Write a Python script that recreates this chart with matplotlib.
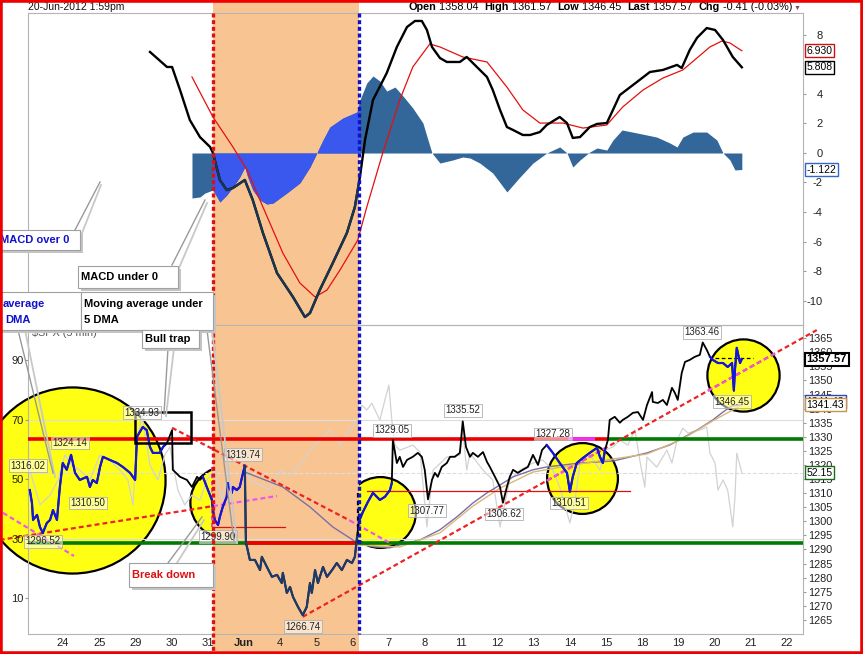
import matplotlib
matplotlib.use("Agg")
import matplotlib.pyplot as plt
import matplotlib.transforms as mtransforms
from matplotlib.patches import Rectangle
from matplotlib.lines import Line2D
import numpy as np

plt.rcParams['font.family'] = ['Liberation Sans', 'DejaVu Sans']

# x = trading day index, 0 = 23 May 2012 ... 21 = 22 Jun 2012
day_labels = ['24', '25', '29', '30', '31', 'Jun', '4', '5', '6', '7', '8',
              '11', '12', '13', '14', '15', '18', '19', '20', '21', '22']

# MACD panel
macd = [(3.40, 6.85), (3.87, 5.83), (4.01, 5.83), (4.23, 4.27), (4.50, 2.24), (4.78, 1.08),
        (5.06, 0.41), (5.14, 0.0), (5.33, -1.83), (5.52, -2.51), (5.69, -2.37), (6.02, -1.83),
        (6.24, -3.19), (6.52, -5.42), (6.91, -8.14), (7.35, -9.76), (7.68, -11.12), (7.82, -10.85),
        (8.09, -9.29), (8.45, -7.46), (8.84, -5.42), (9.06, -3.66), (9.20, -1.63), (9.34, 0.88),
        (9.56, 3.59), (9.94, 5.42), (10.22, 7.19), (10.50, 8.54), (10.72, 8.95), (10.91, 8.95),
        (11.05, 8.34), (11.19, 7.19), (11.41, 6.44), (11.60, 6.17), (11.96, 6.17), (12.15, 6.51),
        (12.32, 6.10), (12.71, 5.15), (12.87, 4.27), (13.07, 2.92), (13.26, 1.76), (13.43, 1.56),
        (13.70, 1.22), (13.90, 1.22), (14.17, 1.42), (14.36, 1.90), (14.72, 2.44), (14.92, 2.03),
        (15.08, 1.02), (15.28, 1.08), (15.55, 1.76), (15.75, 1.97), (16.02, 2.03), (16.19, 2.92),
        (16.38, 3.93), (16.85, 4.81), (17.21, 5.49), (17.57, 5.63), (17.96, 5.97), (18.09, 5.76),
        (18.31, 6.98), (18.51, 7.80), (18.78, 8.47), (19.01, 8.34), (19.23, 7.66), (19.50, 6.51),
        (19.75, 5.81)]
signal = [(4.56, 5.15), (5.14, 2.44), (5.69, 0.41), (6.08, -1.15), (6.52, -3.66), (7.07, -6.78),
          (7.54, -8.81), (7.96, -9.76), (8.29, -9.29), (8.65, -7.93), (9.14, -5.90), (9.39, -3.66),
          (9.83, 0.0), (10.30, 3.59), (10.66, 5.83), (11.13, 7.39), (11.41, 7.19), (12.04, 6.51),
          (12.71, 6.17), (13.26, 4.47), (13.70, 2.92), (14.17, 2.03), (14.81, 2.03), (15.36, 1.69),
          (16.02, 1.90), (16.46, 3.12), (17.02, 4.27), (17.57, 5.08), (18.12, 5.63), (18.51, 6.44),
          (18.87, 7.19), (19.20, 7.59), (19.42, 7.46), (19.75, 6.93)]
hist = [(4.56, -3.05), (4.78, -2.98), (4.92, -2.71), (5.14, -2.51), (5.33, -3.32), (5.52, -2.85),
        (5.69, -2.31), (5.88, -1.63), (6.02, -0.95), (6.10, -1.63), (6.24, -2.51), (6.44, -3.19),
        (6.63, -3.46), (6.80, -3.39), (7.18, -2.71), (7.54, -2.03), (7.82, -0.95), (8.01, 0.0),
        (8.18, 0.88), (8.37, 1.76), (8.73, 2.37), (9.12, 2.78), (9.20, 3.59), (9.39, 4.75),
        (9.56, 5.22), (9.75, 4.88), (9.94, 4.20), (10.17, 4.47), (10.39, 3.86), (10.66, 3.05),
        (10.94, 2.03), (11.08, 0.88), (11.19, 0.0), (11.41, -0.68), (11.77, -0.47), (12.04, -0.27),
        (12.24, -0.34), (12.51, -0.68), (12.87, -1.36), (13.26, -2.64), (13.62, -1.63),
        (13.98, -0.68), (14.36, 0.0), (14.72, 0.41), (14.92, 0.0), (15.08, -0.95), (15.28, -0.47),
        (15.55, 0.07), (15.75, 0.34), (16.02, 0.20), (16.19, 0.88), (16.44, 1.56), (16.85, 1.36),
        (17.40, 1.08), (17.76, 0.68), (17.96, 0.41), (18.12, 1.08), (18.40, 1.42), (18.78, 1.42),
        (19.06, 0.88), (19.23, 0.0), (19.42, -0.47), (19.56, -1.15), (19.75, -1.12)]

# price panel: $SPX 5 min
price = [(0.08, 1311.1), (0.14, 1306.5), (0.17, 1300.5), (0.28, 1302.3), (0.36, 1298.0),
         (0.44, 1295.9), (0.55, 1299.4), (0.64, 1300.5), (0.72, 1304.0), (0.83, 1300.5),
         (0.91, 1312.2), (0.99, 1320.7), (1.10, 1318.3), (1.22, 1323.6), (1.33, 1317.2),
         (1.46, 1314.7), (1.66, 1315.8), (1.74, 1312.2), (1.82, 1314.7), (1.93, 1313.6),
         (2.02, 1319.3), (2.10, 1322.9), (2.29, 1321.8), (2.49, 1320.7), (2.65, 1319.3),
         (2.85, 1317.2), (2.99, 1314.7), (3.04, 1330.0), (3.20, 1333.5), (3.31, 1332.4),
         (3.40, 1326.4), (3.48, 1324.3), (3.67, 1324.3), (3.76, 1326.4), (3.87, 1327.8),
         (4.01, 1332.4), (4.03, 1318.3), (4.23, 1315.8), (4.42, 1314.7), (4.56, 1312.2),
         (4.70, 1315.8), (4.78, 1314.7), (4.86, 1315.8), (4.97, 1312.2), (5.11, 1307.6),
         (5.14, 1304.0), (5.19, 1300.5), (5.28, 1298.7), (5.33, 1301.6), (5.41, 1305.1),
         (5.52, 1308.7), (5.55, 1313.6), (5.66, 1310.1), (5.69, 1312.2), (5.80, 1311.1),
         (5.88, 1312.2), (5.97, 1317.2), (6.02, 1319.7), (6.05, 1292.3), (6.08, 1290.9),
         (6.16, 1286.3), (6.30, 1286.3), (6.44, 1282.7), (6.49, 1287.4), (6.63, 1283.8),
         (6.77, 1280.3), (6.91, 1281.0), (7.04, 1278.1), (7.07, 1281.7), (7.18, 1274.6),
         (7.27, 1276.7), (7.35, 1273.2), (7.49, 1269.6), (7.62, 1266.7), (7.73, 1269.6),
         (7.82, 1278.1), (7.87, 1274.6), (7.96, 1282.7), (8.04, 1278.1), (8.18, 1283.8),
         (8.29, 1280.3), (8.43, 1282.7), (8.56, 1285.2), (8.70, 1282.7), (8.84, 1286.3),
         (8.98, 1285.2), (9.06, 1287.4), (9.12, 1294.5), (9.17, 1299.8), (9.28, 1303.3),
         (9.42, 1306.9), (9.56, 1310.1), (9.75, 1307.6), (9.89, 1308.7), (10.03, 1311.1),
         (10.08, 1313.6), (10.11, 1328.9), (10.22, 1320.7), (10.30, 1322.9), (10.39, 1319.3),
         (10.50, 1321.8), (10.66, 1322.9), (10.80, 1324.3), (10.91, 1322.9), (10.99, 1318.3),
         (11.08, 1307.8), (11.19, 1314.7), (11.27, 1317.2), (11.35, 1315.8), (11.46, 1319.3),
         (11.60, 1320.7), (11.69, 1322.9), (11.82, 1322.9), (11.96, 1324.3), (12.04, 1335.5),
         (12.13, 1326.4), (12.24, 1322.9), (12.32, 1324.3), (12.46, 1322.9), (12.60, 1324.6),
         (12.71, 1321.1), (12.79, 1319.3), (12.93, 1315.8), (13.07, 1312.2), (13.15, 1306.6),
         (13.26, 1312.2), (13.34, 1315.8), (13.43, 1318.3), (13.56, 1317.2), (13.70, 1318.3),
         (13.84, 1319.3), (13.98, 1323.6), (14.12, 1320.0), (14.23, 1325.3), (14.36, 1327.1),
         (14.53, 1324.3), (14.72, 1320.7), (14.92, 1317.2), (15.00, 1310.5), (15.08, 1315.8),
         (15.19, 1320.7), (15.36, 1322.5), (15.55, 1324.3), (15.75, 1326.1), (15.83, 1322.9),
         (15.91, 1320.7), (15.97, 1325.3), (16.05, 1328.9), (16.10, 1336.0), (16.24, 1337.1),
         (16.38, 1335.0), (16.46, 1336.0), (16.60, 1337.1), (16.74, 1338.5), (16.88, 1338.8),
         (17.02, 1336.0), (17.13, 1341.3), (17.27, 1345.9), (17.29, 1342.4), (17.43, 1342.0),
         (17.57, 1343.1), (17.68, 1341.3), (17.82, 1347.4), (17.90, 1345.6), (17.98, 1343.1),
         (18.09, 1352.7), (18.18, 1356.6), (18.31, 1357.3), (18.45, 1358.4), (18.59, 1359.1),
         (18.67, 1363.5), (18.78, 1360.9), (18.87, 1358.4), (18.95, 1357.3), (19.09, 1356.2),
         (19.23, 1356.2), (19.36, 1354.8), (19.48, 1356.2), (19.53, 1346.4), (19.56, 1353.7),
         (19.61, 1361.6), (19.70, 1356.2), (19.75, 1357.57)]
ma_purple = [(6.02, 1317.5), (7.07, 1312.2), (7.82, 1305.1), (8.45, 1298.0), (8.92, 1294.1),
             (9.12, 1292.3), (9.61, 1290.9), (10.03, 1290.6), (10.30, 1291.6), (10.86, 1293.4),
             (11.41, 1297.0), (11.88, 1301.6), (12.32, 1306.5), (12.71, 1310.1), (13.07, 1312.9),
             (13.43, 1315.8), (13.98, 1318.3), (14.36, 1319.3), (15.28, 1320.7), (16.19, 1321.4),
             (17.13, 1324.3), (17.76, 1327.1), (18.12, 1329.6), (18.51, 1332.4), (18.95, 1336.0),
             (19.23, 1338.8), (19.48, 1341.0), (19.75, 1341.43)]
ma_tan = [(9.12, 1291.6), (10.30, 1290.9), (11.41, 1295.9), (12.32, 1305.4), (13.07, 1311.8),
          (13.98, 1317.5), (15.28, 1320.4), (17.13, 1323.9), (18.12, 1329.3), (18.95, 1335.7),
          (19.75, 1341.3)]
rsi = [(0.08, 53.0), (0.36, 41.3), (0.64, 44.6), (0.86, 49.7), (1.05, 58.1), (1.24, 54.7),
       (1.46, 53.0), (1.74, 49.7), (2.02, 58.1), (2.29, 56.4), (2.57, 53.0), (2.79, 49.7),
       (2.93, 41.3), (3.04, 63.1), (3.18, 71.5), (3.40, 54.7), (3.62, 49.7), (3.81, 58.1),
       (3.95, 60.8), (4.17, 46.3), (4.36, 41.3), (4.56, 44.6), (4.78, 42.9), (4.97, 49.7),
       (5.19, 53.0), (5.39, 42.9), (5.61, 56.4), (5.88, 59.7), (6.16, 49.7), (6.44, 48.0),
       (6.71, 46.3), (6.99, 53.0), (7.27, 51.3), (7.54, 54.7), (7.82, 59.7), (8.09, 63.1),
       (8.37, 66.5), (8.65, 61.4), (8.92, 66.5), (9.12, 69.8), (9.25, 74.9), (9.39, 73.2),
       (9.53, 75.5), (9.75, 69.8), (9.89, 76.6), (10.00, 81.6), (10.08, 69.8), (10.17, 61.4),
       (10.30, 59.7), (10.66, 61.4), (10.86, 59.1), (11.05, 33.9), (11.22, 53.0), (11.60, 57.4),
       (11.96, 58.1), (12.04, 66.5), (12.15, 53.0), (12.24, 58.7), (12.60, 53.0), (12.87, 49.7),
       (13.07, 33.9), (13.34, 49.7), (13.62, 53.0), (13.98, 55.4), (14.25, 56.4), (14.53, 53.0),
       (14.72, 47.3), (15.00, 35.2), (15.14, 42.9), (15.28, 55.4), (15.55, 58.1), (15.83, 53.0),
       (15.97, 59.7), (16.19, 60.8), (16.38, 63.1), (16.60, 61.4), (16.80, 66.5), (16.93, 56.4),
       (17.07, 47.3), (17.13, 57.4), (17.40, 54.0), (17.68, 59.7), (17.82, 55.4), (17.96, 63.1),
       (18.12, 67.1), (18.26, 65.5), (18.59, 66.5), (18.78, 67.5), (18.87, 58.7), (19.01, 55.4),
       (19.09, 46.3), (19.23, 49.7), (19.36, 46.3), (19.50, 33.9), (19.56, 44.0), (19.61, 58.7),
       (19.75, 52.15)]

# horizontal levels and trend lines drawn on the price chart
resistance = 1329.3
support = 1292.3
trend_down = [(4.01, 1333.2), (8.92, 1300.3), (10.03, 1292.3)]
trend_up = [(7.62, 1266.1), (21.82, 1367.9)]
trend_up_pink = [[(14.36, 1314.4), (16.02, 1326.3)], [(18.81, 1346.3), (20.72, 1360.0)]]
trend_low = [(-0.75, 1293.4), (5.14, 1305.4), (6.91, 1309.0)]
pink_short = [(-0.66, 1303.0), (1.30, 1287.7)]

price_labels = ['1316.02', '1324.14', '1310.50', '1296.52', '1334.93', '1319.74', '1299.90',
                '1266.74', '1329.05', '1307.77', '1335.52', '1306.62', '1327.28', '1310.51',
                '1363.46', '1346.45']
price_label_pos = [(0.03, 1319.7), (1.19, 1327.8), (1.69, 1306.5), (0.44, 1293.0), (3.18, 1338.5),
                   (5.97, 1323.6), (5.28, 1294.5), (7.62, 1262.6), (10.08, 1332.4), (11.05, 1303.7),
                   (12.04, 1339.5), (13.18, 1302.6), (14.53, 1331.0), (14.97, 1306.5),
                   (18.65, 1367.2), (19.48, 1342.4)]

band = (5.14, 9.17)
ORANGE = '#f8c592'
YELLOW = '#ffff14'

W, H = 863, 654
fig = plt.figure(figsize=(W / 100, H / 100), dpi=100)


def fx(p):
    return p / W


def fy(p):
    return 1 - p / H


ax1 = fig.add_axes([fx(28), fy(325), fx(803) - fx(28), fy(13) - fy(325)])
ax2 = fig.add_axes([fx(28), fy(634), fx(803) - fx(28), fy(325) - fy(634)])
ax_rsi = ax2.twinx()
for a in (ax1, ax2, ax_rsi):
    a.set_facecolor('none')
    a.set_xlim(0.03, 21.44)
    for s in a.spines.values():
        s.set_color('#b4b4b4')
ax1.set_ylim(-11.66, 9.49)
ax2.set_ylim(1260.0, 1369.7)
ax_rsi.set_ylim(-2.1, 101.8)
for s in ax_rsi.spines.values():
    s.set_visible(False)

# orange highlight band across both panels
blend = mtransforms.blended_transform_factory(ax1.transData, fig.transFigure)
fig.add_artist(Rectangle((band[0], fy(651)), band[1] - band[0], fy(0) - fy(651),
                         transform=blend, fc=ORANGE, ec='none', zorder=-1))

# ---------------- MACD panel ----------------
hx, hy = np.array(hist).T
ax1.fill_between(hx, 0, hy, color='#336699', lw=0, zorder=2)
hb = ax1.fill_between(hx, 0, hy, color='#3a57ee', lw=0, zorder=2.1)
clip1 = Rectangle((band[0], -20), band[1] - band[0], 40, transform=ax1.transData)
hb.set_clip_path(clip1)

sx, sy = np.array(signal).T
ax1.plot(sx, sy, color='#e41010', lw=0.9, zorder=3)
mx, my = np.array(macd).T
ax1.plot(mx, my, color='black', lw=1.7, zorder=4)
mline, = ax1.plot(mx, my, color='#1b3550', lw=1.7, zorder=4.1)
clip2 = Rectangle((band[0], -20), band[1] - band[0], 40, transform=ax1.transData)
mline.set_clip_path(clip2)

ax1.set_xticks([])
ax1.yaxis.tick_right()
ax1.set_yticks([-10, -8, -6, -4, -2, 0, 2, 4, 8])
ax1.set_yticklabels(['-10', '-8', '-6', '-4', '-2', '0', '2', '4', '8'], ha='right')
ax1.tick_params(axis='y', labelsize=8, length=2, color='#999999', pad=12, labelcolor='#222222')


def tag(ax, y, text, ec, bold=False, lw=1.0, size=7.5, z=30):
    ax.annotate(text, xy=(1, y), xycoords=('axes fraction', 'data'), xytext=(2.5, 0),
                textcoords='offset points', ha='left', va='center', fontsize=size,
                fontweight='bold' if bold else 'normal', annotation_clip=False, zorder=z,
                bbox=dict(boxstyle='square,pad=0.15', fc='white', ec=ec, lw=lw))


tag(ax1, signal[-1][1], '6.930', '#d01010')
tag(ax1, macd[-1][1], '5.808', 'black')
tag(ax1, hist[-1][1], '-1.122', '#3366cc')

# ---------------- price panel ----------------
circles = [((1.24, 1314.7), 134), ((5.50, 1306.9), 52), ((9.75, 1303.4), 51),
           ((15.33, 1315.4), 51), ((19.78, 1352.0), 52)]
for (cx, cy), d in circles:
    ax2.plot([cx], [cy], 'o', ms=d, mfc=YELLOW, mec='black', mew=1.6, zorder=1, clip_on=False)
ax2.axvspan(band[0], band[1], color=ORANGE, lw=0, zorder=1.5)

rx, ry = np.array(rsi).T
ax2.plot(rx, ry, color='#d2d2d2', lw=0.9, zorder=1.8, transform=ax_rsi.transData)
for lvl, st in ((70, '-'), (30, '-'), (rsi[-1][1], '--')):
    ax2.plot([0.03, 21.44], [lvl, lvl], color='#dddddd', lw=0.8, ls=st, zorder=1.7,
             transform=ax_rsi.transData)

ax2.plot(*np.array(ma_purple).T, color='#7a6fa8', lw=1.0, zorder=2)
ax2.plot(*np.array(ma_tan).T, color='#d9b77a', lw=1.0, zorder=2)

# horizontal levels
ax2.plot([0.03, 16.05], [resistance, resistance], color='#ee0000', lw=2.6, zorder=3, solid_capstyle='butt')
ax2.plot([16.05, 21.44], [resistance, resistance], color='#007a00', lw=2.6, zorder=3, solid_capstyle='butt')
ax2.plot([14.94, 15.69], [resistance, resistance], color='#ee33ee', lw=2.6, zorder=3.1, solid_capstyle='butt')
ax2.plot([0.03, 21.44], [support, support], color='#007a00', lw=2.6, zorder=3, solid_capstyle='butt')
ax2.plot([6.02, 9.12], [support, support], color='#ee0000', lw=2.6, zorder=3.1, solid_capstyle='butt')
ax2.plot([5.14, 7.13], [1298.0, 1298.0], color='#dd1111', lw=0.9, zorder=3)
ax2.plot([9.39, 16.66], [1310.8, 1310.8], color='#dd1111', lw=0.9, zorder=3)

# trend lines
dash = (0, (2.2, 1.4))
td = np.array(trend_down)
ax2.plot(td[:2, 0], td[:2, 1], color='#ee2222', lw=1.6, ls=dash, zorder=3.5)
ax2.plot(td[1:, 0], td[1:, 1], color='#ee55ee', lw=1.6, ls=dash, zorder=3.5)
tu = np.array(trend_up)
ax2.plot(tu[:, 0], tu[:, 1], color='#ee2222', lw=1.6, ls=dash, zorder=3.5, clip_on=False)
for seg in trend_up_pink:
    sgx, sgy = np.array(seg).T
    ax2.plot(sgx, sgy, color='#ee55ee', lw=1.6, ls=dash, zorder=3.6)
tl = np.array(trend_low)
ax2.plot(tl[:2, 0], tl[:2, 1], color='#ee2222', lw=1.6, ls=dash, zorder=3.5, clip_on=False)
ax2.plot(tl[1:, 0], tl[1:, 1], color='#ee55ee', lw=1.6, ls=dash, zorder=3.5)
ps = np.array(pink_short)
ax2.plot(ps[:, 0], ps[:, 1], color='#ee55ee', lw=1.6, ls=dash, zorder=3.5, clip_on=False)
ax2.plot([9.14, 9.14], [1310.1, 1292.3], color='black', lw=1.6, ls=(0, (2, 1.5)), zorder=3.6)
ax2.plot([19.0, 20.06], [1358.0, 1358.0], color='black', lw=0.9, ls=(0, (3, 2)), zorder=3.6)
ax2.plot([5.11, 5.11], [1319.3, 1298.0], color='#ee44ee', lw=1.4, ls=dash, zorder=3.6)

# price line
px_, py_ = np.array(price).T
ax2.plot(px_, py_, color='black', lw=1.3, zorder=4)
for lo, hi, col in ((0.0, 3.87, '#1515e0'), (4.86, 6.02, '#1515e0'), (6.02, 9.12, '#1d3a6a'),
                    (9.17, 10.08, '#1515e0'), (14.36, 16.02, '#1515e0'), (18.87, 19.75, '#1515e0')):
    m = (px_ >= lo) & (px_ <= hi)
    ax2.plot(px_[m], py_[m], color=col, lw=1.6, zorder=4.5)

# bull trap box
ax2.add_patch(Rectangle((2.98, 1327.8), 1.55, 11.0, fill=False, ec='black', lw=1.8, zorder=6))

for s, (lx, ly) in zip(price_labels, price_label_pos):
    ax2.text(lx, ly, s, fontsize=7, ha='center', va='center', color='#222222', zorder=7,
             bbox=dict(boxstyle='square,pad=0.15', fc=(1, 1, 1, 0.55), ec='#b0b0b0', lw=0.6),
             clip_on=False)

ax2.yaxis.tick_right()
ax2.set_yticks(np.arange(1265, 1366, 5))
ax2.tick_params(axis='y', labelsize=7.8, length=2, color='#999999', pad=1.5, labelcolor='#222222')
ax2.set_xticks(range(1, 22))
ax2.set_xticklabels(day_labels)
ax2.tick_params(axis='x', labelsize=8, length=0, pad=3, labelcolor='#222222')
ax2.get_xticklabels()[5].set_fontweight('bold')

ax_rsi.yaxis.tick_left()
ax_rsi.set_yticks([10, 30, 50, 70, 90])
ax_rsi.tick_params(axis='y', labelsize=8, length=2, color='#999999', pad=1, labelcolor='#222222')
ax_rsi.tick_params(axis='x', bottom=False, labelbottom=False)

tag(ax2, price[-1][1], '1357.57', 'black', bold=True, lw=1.5, size=8)
tag(ax2, 1342.4, '1341.43', '#3344aa', z=29)
tag(ax2, ma_purple[-1][1], '1341.43', '#c8944c')
tag(ax_rsi, rsi[-1][1], '52.15', '#1c6b1c')

# dotted band edges
fig.add_artist(Line2D([band[0]] * 2, [fy(13), fy(651)], transform=blend, color='#dd1111',
                      lw=2.4, ls=(0, (1.2, 0.8)), zorder=5))
fig.add_artist(Line2D([band[1]] * 2, [fy(13), fy(634)], transform=blend, color='#1010cc',
                      lw=2.4, ls=(0, (1.2, 0.8)), zorder=5))

# header
fig.text(fx(28), fy(7), '20-Jun-2012 1:59pm', fontsize=7.5, va='center', color='#111111')
header = [('Open', True), (' 1358.04  ', False), ('High', True), (' 1361.57  ', False),
          ('Low', True), (' 1346.45  ', False), ('Last', True), (' 1357.57  ', False),
          ('Chg', True), (' -0.41 (-0.03%)', False)]
prev = fig.text(fx(408), fy(7), header[0][0], fontsize=7.8, fontweight='bold', va='center')
for s, b in header[1:]:
    prev = ax1.annotate(s, xy=(1, 0), xycoords=prev, va='bottom', ha='left', fontsize=7.8,
                        fontweight='bold' if b else 'normal', annotation_clip=False)
ax1.annotate(' \u25bc', xy=(1, 0), xycoords=prev, va='bottom', ha='left', fontsize=5,
             color='#8a4a4a', annotation_clip=False)
fig.text(fx(32), fy(333), '$SPX (5 min)', fontsize=7.8, va='center', color='#555555')


# callout boxes with shadow
def box(x0, y0, x1, y1):
    fig.add_artist(Rectangle((fx(x0 + 3), fy(y1 + 3)), fx(x1 - x0), fy(y0) - fy(y1),
                             transform=fig.transFigure, fc='#c4c4c4', ec='none', zorder=20))
    fig.add_artist(Rectangle((fx(x0), fy(y1)), fx(x1 - x0), fy(y0) - fy(y1),
                             transform=fig.transFigure, fc='white', ec='#a0a0a0', lw=0.8, zorder=21))


def pointer(p0, p1, q0, q1):
    fig.add_artist(Line2D([fx(q0[0]), fx(q1[0])], [fy(q0[1]), fy(q1[1])], color='#c8c8c8', lw=1.3, zorder=19))
    fig.add_artist(Line2D([fx(p0[0]), fx(p1[0])], [fy(p0[1]), fy(p1[1])], color='#999999', lw=1.0, zorder=19))


pointer((75, 230), (100, 182), (82, 233), (101, 185))
pointer((172, 265), (205, 200), (179, 268), (207, 203))
pointer((18, 330), (53, 473), (25, 330), (55, 477))
pointer((207, 330), (234, 541), (212, 330), (237, 543))
pointer((168, 348), (164, 414), (174, 348), (166, 416))
pointer((168, 563), (202, 517), (175, 566), (204, 520))

cfont = dict(fontsize=8, fontweight='bold', va='center', zorder=22)
box(-5, 230, 80, 250)
fig.text(fx(0), fy(240), 'MACD over 0', color='#1010cc', **cfont)
box(78, 266, 178, 288)
fig.text(fx(81), fy(277), 'MACD under 0', color='black', **cfont)
box(-5, 292, 81, 330)
box(81, 292, 213, 330)
fig.text(fx(3), fy(304), 'average', color='#1010cc', **cfont)
fig.text(fx(5), fy(320), 'DMA', color='#1010cc', **cfont)
fig.text(fx(84), fy(304), 'Moving average under', color='black', **cfont)
fig.text(fx(84), fy(320), '5 DMA', color='black', **cfont)
box(142, 330, 199, 348)
fig.text(fx(145), fy(339), 'Bull trap', color='black', **cfont)
box(129, 563, 213, 587)
fig.text(fx(132), fy(575), 'Break down', color='#dd1111', **cfont)

# red frame round the picture
fig.add_artist(Rectangle((0, 0), 1, 1, transform=fig.transFigure, fill=False, ec='#ee0000', lw=4, zorder=40))

fig.savefig('out.png', dpi=100)
